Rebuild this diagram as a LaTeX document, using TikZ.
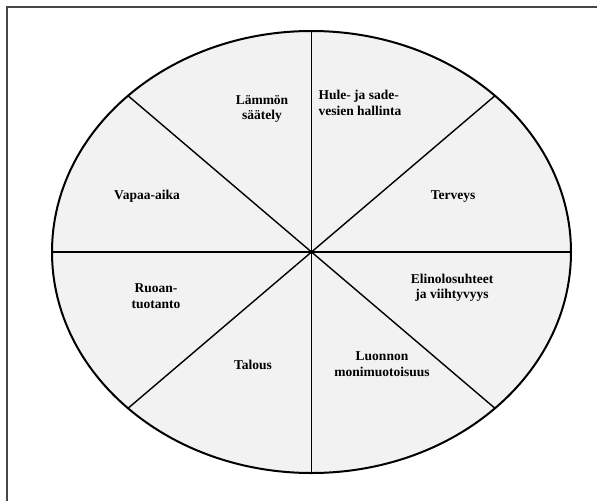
\documentclass[tikz,border=0pt]{standalone}
\usepackage{fontspec}
\setmainfont{Liberation Serif}
\usetikzlibrary{calc}
\definecolor{wheelfill}{RGB}{242,242,242}
\definecolor{framegray}{RGB}{70,70,70}
\tikzset{
  rim/.style={draw=black, line width=2pt, fill=wheelfill},
  divider/.style={draw=black, line width=1.4pt},
  sectortext/.style={align=center, inner sep=0pt,
                     font=\fontsize{13.5}{15.5}\selectfont\bfseries},
}

\begin{document}
\begin{tikzpicture}[x=1pt, y=-1pt]
  \useasboundingbox (0,0) rectangle (597,501);
  % outer frame (only top and left edges show)
  \draw[framegray, line width=1.5pt] (7,501) -- (7,7) -- (597,7);

  \coordinate (hub) at (311.5,252);
  \draw[rim] (hub) ellipse [x radius=259.5, y radius=221];

  % rim points
  \coordinate (pN)  at ($(hub)+(0,-221)$);
  \coordinate (pS)  at ($(hub)+(0,221)$);
  \coordinate (pE)  at ($(hub)+(259.5,0)$);
  \coordinate (pW)  at ($(hub)+(-259.5,0)$);
  \coordinate (pNE) at ($(hub)+(183.5,-156.3)$);
  \coordinate (pNW) at ($(hub)+(-183.5,-156.3)$);
  \coordinate (pSE) at ($(hub)+(183.5,156.3)$);
  \coordinate (pSW) at ($(hub)+(-183.5,156.3)$);

  \draw[divider] (pN) -- (pS);
  \draw[divider] (pW) -- (pE);
  \draw[divider] (pNW) -- (pSE);
  \draw[divider] (pSW) -- (pNE);

  % sector labels
  \node[sectortext] (heat)    at (262,109) {Lämmön\\säätely};
  \node[sectortext, align=left] (storm) at (360,103) {Hule- ja sade-\\vesien hallinta};
  \node[sectortext] (health)  at (453,197) {Terveys};
  \node[sectortext] (leisure) at (147,196) {Vapaa-aika};
  \node[sectortext] (food)    at (156,296) {Ruoan-\\tuotanto};
  \node[sectortext] (living)  at (452,288) {Elinolosuhteet\\ja viihtyvyys};
  \node[sectortext] (economy) at (253,365) {Talous};
  \node[sectortext] (nature)  at (382,364) {Luonnon\\monimuotoisuus};
\end{tikzpicture}
\end{document}
